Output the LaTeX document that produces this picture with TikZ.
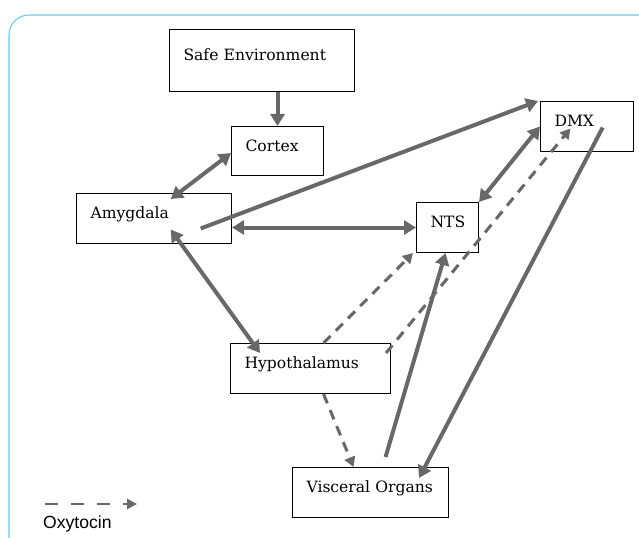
\documentclass[tikz,border=0pt]{standalone}
\usepackage{fontspec}
\setmainfont{DejaVu Serif}
\newfontfamily\legendfont{Liberation Sans}
\usetikzlibrary{arrows.meta}
\definecolor{linkgray}{RGB}{104,104,104}
\definecolor{framecyan}{RGB}{100,204,240}
\tikzset{
  region/.style={draw, line width=0.9pt, anchor=north west, inner xsep=0.42cm,
    align=left, text height=0.35cm, text depth=0.35cm,
    font=\fontsize{13.3}{16}\selectfont},
  link/.style={draw=linkgray, line width=3.4pt,
    -{Triangle[length=0.36cm,width=0.42cm]}},
  twolink/.style={link, {Triangle[length=0.36cm,width=0.42cm]}-{Triangle[length=0.36cm,width=0.42cm]}},
  oxylink/.style={draw=linkgray, line width=2.6pt, dash pattern=on 0.3cm off 0.22cm,
    -{Triangle[length=0.3cm,width=0.33cm]}}
}
\begin{document}
\begin{tikzpicture}[x=0.03cm,y=-0.03cm]
                            \useasboundingbox (0,0) rectangle (639,538);

                            % Drawing frame
                            \begin{scope}
                            \clip (0,0) rectangle (639,538);
                            \draw [framecyan, line width=0.9pt, rounded corners=0.6cm] (9,15) rectangle (670,620);%
                            \end{scope}

                            % Placing boxes
                            \node [region, minimum width=5.55cm, minimum height=1.86cm, text width=4.71cm] (safe) at (169,29) {\mbox{Safe Environment}};%
                            \node [region, minimum width=2.76cm, minimum height=1.47cm, text width=1.92cm] (cortex) at (231,126) {Cortex};%
                            \node [region, minimum width=4.65cm, minimum height=1.5cm, text width=3.81cm] (amyg) at (76,193) {Amygdala};%
                            \node [region, minimum width=2.79cm, minimum height=1.5cm, text width=1.95cm] (dmx) at (540,101) {DMX};%
                            \node [region, minimum width=1.86cm, minimum height=1.5cm, text width=1.02cm] (nts) at (416,202) {NTS};%
                            \node [region, minimum width=4.8cm, minimum height=1.5cm, text width=3.96cm] (hyp) at (230,343) {Hypothalamus};%
                            \node [region, minimum width=4.68cm, minimum height=1.5cm, text width=3.84cm] (vis) at (292,467) {\mbox{Visceral Organs}};%

                            % Drawing solid links
                            \draw [link] (safe.south -| cortex.north) -- (cortex.north);%
                            \draw [twolink] ([yshift=-0.06cm]cortex.west) -- ([xshift=0.5cm,yshift=-0.18cm]amyg.north);%
                            \draw [link] ([xshift=1.4cm,yshift=-0.3cm]amyg.center) -- ([xshift=-0.06cm]dmx.north west);%
                            \draw [twolink] (nts.west -| amyg.east) -- (nts.west);%
                            \draw [twolink] ([xshift=0.5cm,yshift=-0.33cm]amyg.center) -- ([xshift=0.9cm,yshift=-0.3cm]hyp.north west);%
                            \draw [twolink] (nts.north east) -- (dmx.west);%
                            \draw [link] ([xshift=0.45cm,yshift=0.3cm]vis.north) -- ([xshift=-0.06cm]nts.south);%
                            \draw [link] ([xshift=0.47cm,yshift=-0.03cm]dmx.center) -- ([xshift=-0.9cm,yshift=-0.33cm]vis.north east);%

                            % Drawing oxytocin links
                            \draw [oxylink] ([xshift=0.39cm]hyp.north) -- ([xshift=-0.09cm]nts.south west);%
                            \draw [oxylink] ([xshift=-0.15cm,yshift=-0.3cm]hyp.north east) -- ([xshift=-0.5cm,yshift=-0.06cm]dmx.center);%
                            \draw [oxylink] ([xshift=0.39cm]hyp.south) -- ([xshift=-0.51cm]vis.north);%

                            % Marking legend
                            \coordinate (legA) at (45,504);%
                            \coordinate (legB) at (137,504);%
                            \draw [oxylink, line width=2.4pt, dash pattern=on 0.39cm off 0.39cm, -{Triangle[length=0.3cm,width=0.3cm]}] (legA) -- (legB);%
                            \node [anchor=west, inner sep=0pt, font=\legendfont\fontsize{15}{18}\selectfont] (oxy) at (43,524) {Oxytocin};%
\end{tikzpicture}
\end{document}
